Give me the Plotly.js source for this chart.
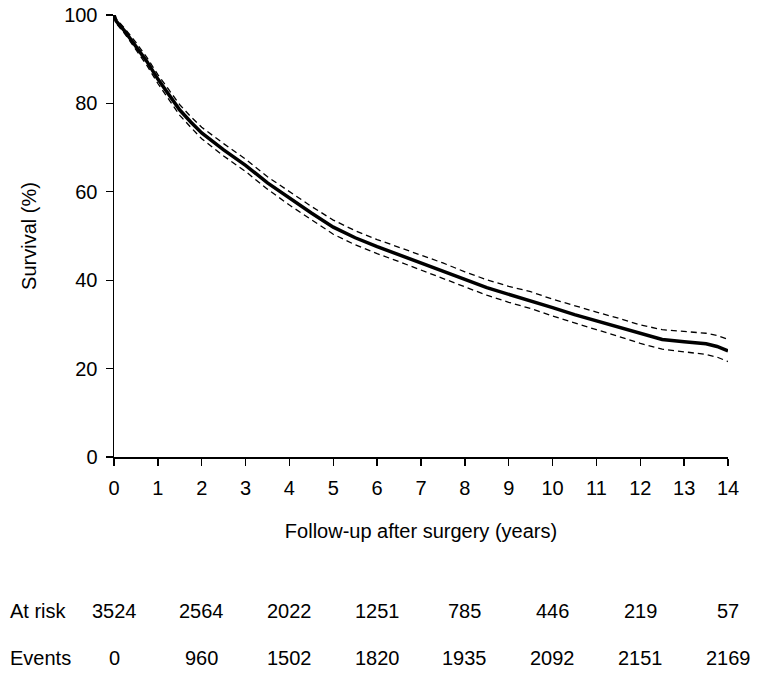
<!DOCTYPE html>
<html>
<head>
<meta charset="utf-8">
<script src="https://cdn.plot.ly/plotly-3.0.1.min.js"></script>
<style>html,body{margin:0;padding:0;background:#fff;}#chart{width:760px;height:687px;}</style>
</head>
<body>
<div id="chart"></div>
<script>
// Follow-up time (years)
var years = [0, 0.05, 0.25, 0.5, 0.75, 1, 1.25, 1.5, 1.75, 2, 2.5, 3, 3.5, 4, 4.5, 5, 5.5, 6, 6.5, 7, 7.5, 8, 8.5, 9, 9.5, 10, 10.5, 11, 11.5, 12, 12.5, 13, 13.5, 13.75, 14];
// Kaplan-Meier survival estimate (%)
var survival = [100, 98.6, 96.3, 93, 89.5, 85.5, 82, 78.5, 75.8, 73.3, 69.5, 66, 62, 58.5, 55.2, 52, 49.6, 47.6, 45.8, 44, 42.2, 40.2, 38.3, 36.8, 35.5, 33.8, 32.2, 30.8, 29.3, 27.8, 26.6, 26.1, 25.6, 25, 24];
// Upper 95% confidence limit (%)
var upper = [100, 99.1, 96.9, 93.8, 90.4, 86.5, 83.1, 79.7, 77, 74.6, 70.9, 67.4, 63.4, 60, 56.7, 53.6, 51.2, 49.2, 47.4, 45.7, 43.9, 41.9, 40.1, 38.6, 37.4, 35.7, 34.2, 32.8, 31.4, 29.9, 28.8, 28.4, 28, 27.5, 26.6];
// Lower 95% confidence limit (%)
var lower = [100, 98.1, 95.7, 92.2, 88.6, 84.5, 80.9, 77.3, 74.6, 72, 68.1, 64.6, 60.6, 57, 53.7, 50.4, 48, 46, 44.2, 42.3, 40.5, 38.5, 36.6, 35, 33.6, 31.9, 30.3, 28.8, 27.3, 25.7, 24.4, 23.8, 23.2, 22.6, 21.6];

// Numbers-at-risk table
var tableYears = [0, 2, 4, 6, 8, 10, 12, 14];
var atRisk = [3524, 2564, 2022, 1251, 785, 446, 219, 57];
var events = [0, 960, 1502, 1820, 1935, 2092, 2151, 2169];
var rowLabels = ['At risk', 'Events'];

var FONT = 'Liberation Sans, Arial, sans-serif';
var FS = 20;

var traces = [
  {x: years, y: upper, mode: 'lines', line: {color: '#000', width: 1.3, dash: '6px,4px'}, hoverinfo: 'skip', showlegend: false},
  {x: years, y: lower, mode: 'lines', line: {color: '#000', width: 1.3, dash: '6px,4px'}, hoverinfo: 'skip', showlegend: false},
  {x: years, y: survival, mode: 'lines', line: {color: '#000', width: 3.5}, showlegend: false}
];

var annotations = [];
var rowY = [-0.348, -0.455];
[atRisk, events].forEach(function (row, r) {
  annotations.push({xref: 'paper', yref: 'paper', x: -0.172, y: rowY[r], text: rowLabels[r], showarrow: false,
    xanchor: 'left', yanchor: 'middle', font: {family: FONT, size: FS, color: '#000'}});
  row.forEach(function (v, i) {
    annotations.push({xref: 'x', yref: 'paper', x: tableYears[i], y: rowY[r], text: String(v), showarrow: false,
      xanchor: 'center', yanchor: 'middle', font: {family: FONT, size: FS, color: '#000'}});
  });
});

var layout = {
  width: 760, height: 687,
  margin: {l: 114, r: 32, t: 15, b: 230},
  paper_bgcolor: '#fff', plot_bgcolor: '#fff',
  font: {family: FONT, size: FS, color: '#000'},
  xaxis: {
    range: [0, 14], dtick: 1, tick0: 0, showgrid: false, zeroline: false,
    showline: true, linecolor: '#000', linewidth: 1.5,
    ticks: 'outside', ticklen: 7, tickwidth: 1.3, tickcolor: '#000', ticklabelstandoff: 5,
    tickfont: {family: FONT, size: FS, color: '#000'},
    title: {text: 'Follow-up after surgery (years)', font: {family: FONT, size: FS, color: '#000'}, standoff: 26},
    automargin: false
  },
  yaxis: {
    range: [0, 100], dtick: 20, tick0: 0, showgrid: false, zeroline: false,
    showline: true, linecolor: '#000', linewidth: 1.5,
    ticks: 'outside', ticklen: 7, tickwidth: 1.3, tickcolor: '#000', ticklabelstandoff: 4,
    tickfont: {family: FONT, size: FS, color: '#000'},
    title: {text: 'Survival (%)', font: {family: FONT, size: FS, color: '#000'}, standoff: 22},
    automargin: false
  },
  annotations: annotations,
  showlegend: false
};

Plotly.newPlot('chart', traces, layout, {displayModeBar: false, staticPlot: true});
</script>
</body>
</html>
